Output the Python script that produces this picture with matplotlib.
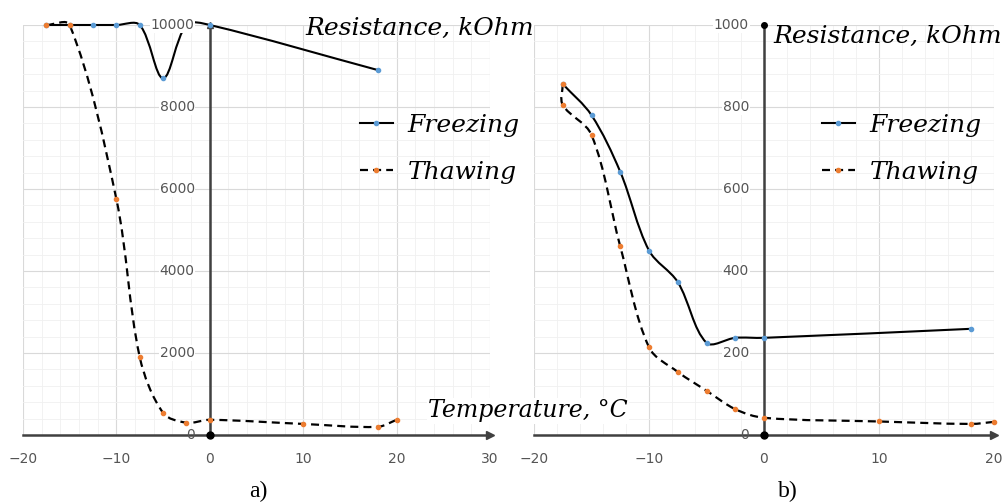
import numpy as np
import matplotlib
matplotlib.use('Agg')
import matplotlib.pyplot as plt
from matplotlib.path import Path
from matplotlib.patches import PathPatch
from matplotlib.lines import Line2D
from matplotlib.ticker import MultipleLocator
from matplotlib.transforms import offset_copy

# a) resistance, kOhm vs temperature, C
a_freeze_t = [-17.5, -15, -12.5, -10, -7.5, -5, -2.5, 0, 18]
a_freeze_r = [10000, 10000, 10000, 10000, 10000, 8700, 10000, 10000, 8900]
a_thaw_t = [-17.5, -15, -10, -7.5, -5, -2.5, 0, 10, 18, 20]
a_thaw_r = [10000, 10000, 5750, 1900, 540, 300, 370, 270, 200, 370]

# b)
b_freeze_t = [-17.5, -15, -12.5, -10, -7.5, -5, -2.5, 0, 18]
b_freeze_r = [856, 780, 642, 450, 373, 225, 237, 237, 259]
b_thaw_t = [-17.5, -17.5, -15, -12.5, -10, -7.5, -5, -2.5, 0, 10, 18, 20]
b_thaw_r = [856, 805, 732, 460, 214, 154, 108, 63, 42, 33, 27, 32]

a_xticks = [-20, -10, 0, 10, 20, 30]
b_xticks = [-20, -10, 0, 10, 20]
a_yticks = [0, 2000, 4000, 6000, 8000, 10000]
b_yticks = [0, 200, 400, 600, 800, 1000]

BLUE = '#5b9bd5'
ORANGE = '#ed7d31'
AXC = '#404040'
SERIF = 'DejaVu Serif'


def smooth_line(ax, xs, ys, **kw):
    # excel-like smoothed line, control points worked out in pixel space
    pts = ax.transData.transform(np.column_stack([xs, ys]).astype(float))
    n = len(pts)
    verts = [pts[0]]
    codes = [Path.MOVETO]
    seg = [np.hypot(*(pts[i + 1] - pts[i])) for i in range(n - 1)]
    for i in range(n - 1):
        p0 = pts[max(i - 1, 0)]
        p1 = pts[i]
        p2 = pts[i + 1]
        p3 = pts[min(i + 2, n - 1)]
        d = seg[i]
        dprev = seg[i - 1] if i > 0 else 0
        dnext = seg[i + 1] if i < n - 2 else 0
        c1 = p1 + (p2 - p0) * d / max(dprev + d, 1e-9) / 3
        c2 = p2 - (p3 - p1) * d / max(d + dnext, 1e-9) / 3
        verts += [c1, c2, p2]
        codes += [Path.CURVE4] * 3
    verts = ax.transData.inverted().transform(np.array(verts))
    ax.add_patch(PathPatch(Path(verts, codes), fill=False, clip_on=False, **kw))


def setup(ax, xmax, xticks, yticks):
    ymax = yticks[-1]
    ystep = yticks[1] - yticks[0]
    ax.set_xlim(-20, xmax)
    ax.set_ylim(0, ymax)
    ax.set_xticks(xticks)
    ax.set_yticks(yticks)
    ax.xaxis.set_minor_locator(MultipleLocator(2))
    ax.yaxis.set_minor_locator(MultipleLocator(ystep / 5))
    ax.grid(which='major', color='#d9d9d9', lw=0.8)
    ax.grid(which='minor', color='#f0f0f0', lw=0.6)
    ax.set_axisbelow(True)
    for s in ['top', 'right']:
        ax.spines[s].set_visible(False)
    ax.spines['left'].set_position(('data', 0))
    for s in ['left', 'bottom']:
        ax.spines[s].set_color(AXC)
        ax.spines[s].set_linewidth(1.8)
        ax.spines[s].set_zorder(2.6)
    ax.tick_params(which='both', length=0, labelsize=10, labelcolor='#555555')
    ax.tick_params(axis='x', pad=12)
    ax.tick_params(axis='y', labelleft=False)
    tr = offset_copy(ax.transData, fig=ax.figure, x=-15, y=0, units='dots')
    for v in yticks:
        bb = dict(facecolor='white', edgecolor='none', pad=0.5) if v else None
        ax.text(0, v, str(v), transform=tr, ha='right', va='center',
                fontsize=10, color='#555555', bbox=bb, zorder=5)
    ax.set_facecolor('none')
    ax.plot([xmax], [0], marker='>', color=AXC, ms=6, clip_on=False, zorder=4)
    ax.plot([0], [0], marker='o', color='black', ms=5, clip_on=False, zorder=4)


def draw(ax, ft, fr, tt, tr):
    smooth_line(ax, ft, fr, color='black', lw=1.5, zorder=3)
    smooth_line(ax, tt, tr, color='black', lw=1.6, ls=(0, (3.6, 2.3)), zorder=3)
    ax.plot(ft, fr, 'o', color=BLUE, ms=3, clip_on=False, zorder=4)
    ax.plot(tt, tr, 'o', color=ORANGE, ms=3, clip_on=False, zorder=4)


fig = plt.figure(figsize=(10.06, 5.04), dpi=100)
W, H = 1006, 504

ax1 = fig.add_axes([23 / W, 69 / H, 467 / W, 410 / H])
setup(ax1, 30, a_xticks, a_yticks)
ax1.plot([0], [10000], marker='^', color=AXC, ms=5, clip_on=False, zorder=4)
draw(ax1, a_freeze_t, a_freeze_r, a_thaw_t, a_thaw_r)

ax2 = fig.add_axes([534 / W, 69 / H, 460 / W, 410 / H])
setup(ax2, 20, b_xticks, b_yticks)
ax2.plot([0], [1000], marker='o', color='black', ms=4, clip_on=False, zorder=4)
draw(ax2, b_freeze_t, b_freeze_r, b_thaw_t, b_thaw_r)

handles = [
    Line2D([], [], color='black', lw=1.5, marker='o', ms=3, mfc=BLUE, mec=BLUE),
    Line2D([], [], color='black', lw=1.6, ls=(0, (3.6, 2.3)), marker='o', ms=3,
           mfc=ORANGE, mec=ORANGE),
]
for xl in [360, 822]:
    fig.legend(handles, ['Freezing', 'Thawing'], loc='upper left',
               bbox_to_anchor=(xl / W, 1 - 114 / H), frameon=False,
               prop=dict(family=SERIF, style='italic', size=18),
               handlelength=1.3, handletextpad=0.6, labelspacing=0.95,
               borderpad=0, borderaxespad=0)

tfont = dict(family=SERIF, style='italic', size=18, va='center')
fig.text(305 / W, 1 - 28 / H, 'Resistance, kOhm', ha='left', **tfont)
fig.text(773 / W, 1 - 36 / H, 'Resistance, kOhm', ha='left', **tfont)
fig.text(428 / W, 1 - 411 / H, 'Temperature, °C', ha='left', size=17,
         family=SERIF, style='italic', va='center',
         bbox=dict(facecolor='white', edgecolor='none', pad=1))

fig.text(258 / W, 1 - 491 / H, 'a)', ha='center', va='center',
         family='Liberation Serif', size=17)
fig.text(788 / W, 1 - 491 / H, 'b)', ha='center', va='center',
         family='Liberation Serif', size=17)

fig.savefig('out.png', dpi=100)
